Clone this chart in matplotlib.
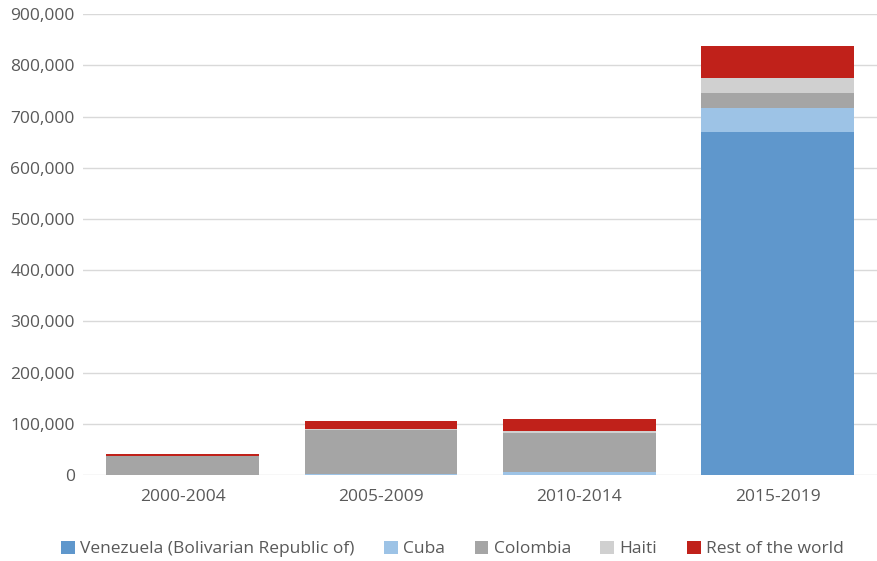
import matplotlib
matplotlib.use("Agg")
import matplotlib.pyplot as plt
from matplotlib.ticker import FuncFormatter

plt.rcParams['font.family'] = ['Open Sans', 'DejaVu Sans']

# data
periods = ['2000-2004', '2005-2009', '2010-2014', '2015-2019']
venezuela = [300, 500, 1000, 670000]
cuba = [500, 2000, 6000, 47000]
colombia = [36000, 86000, 76000, 28000]
haiti = [500, 1000, 4000, 31000]
rest = [4000, 16000, 22000, 62000]

series = [
    ('Venezuela (Bolivarian Republic of)', venezuela, '#5f97cc'),
    ('Cuba', cuba, '#9dc3e6'),
    ('Colombia', colombia, '#a5a5a5'),
    ('Haiti', haiti, '#d0d0d0'),
    ('Rest of the world', rest, '#c0211a'),
]

fig = plt.figure(figsize=(8.77, 5.61), dpi=100)
ax = fig.add_axes([0.095, 0.153, 0.905, 0.822])

bottom = [0] * len(periods)
for name, vals, col in series:
    ax.bar(periods, vals, bottom=bottom, width=0.77, color=col, label=name, zorder=3)
    bottom = [b + v for b, v in zip(bottom, vals)]

ax.set_ylim(0, 900000)
ax.set_xlim(-0.5, 3.5)
ax.set_yticks(range(0, 900001, 100000))
ax.yaxis.set_major_formatter(FuncFormatter(lambda v, p: f'{int(v):,}'))
ax.grid(axis='y', color='#d9d9d9', linewidth=1, zorder=0)
for s in ax.spines.values():
    s.set_visible(False)
ax.tick_params(axis='both', length=0, labelsize=12.5, labelcolor='#595959')
ax.tick_params(axis='x', pad=10)
ax.tick_params(axis='y', pad=6)

ax.legend(loc='center', bbox_to_anchor=(0.465, -0.16), ncol=5, frameon=False,
          fontsize=12.5, handlelength=0.8, handleheight=0.8, handletextpad=0.3,
          columnspacing=1.7, labelcolor='#595959')

fig.savefig('out.png', dpi=100)
